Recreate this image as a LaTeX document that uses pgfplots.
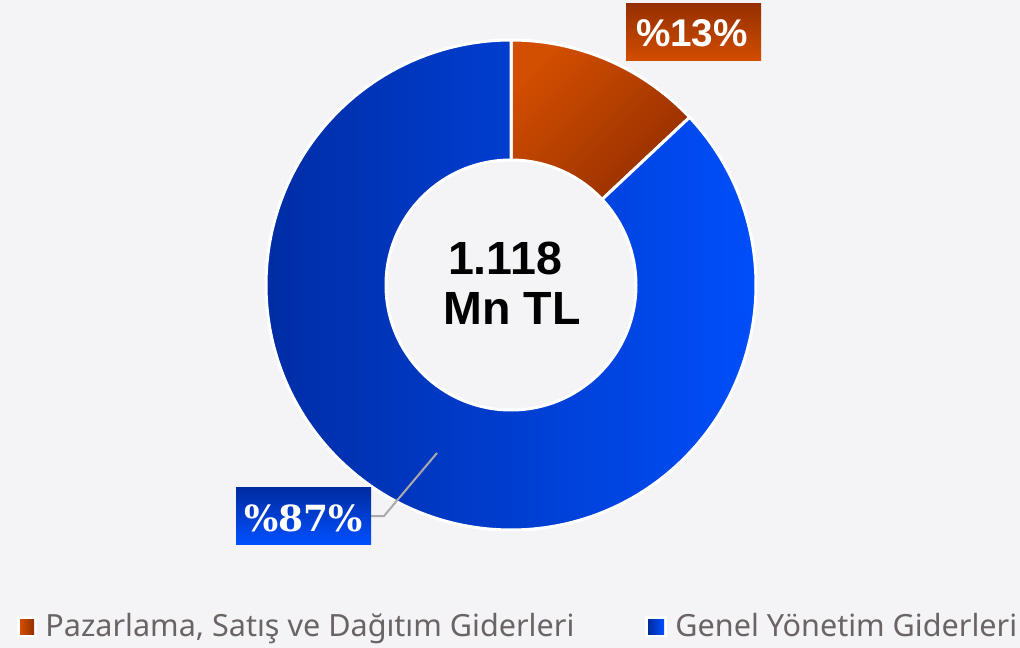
\documentclass[border=0pt]{standalone}
\usepackage{fontspec}
\setmainfont{Noto Sans}
\newfontfamily\boldsans{Liberation Sans}
\newfontfamily\serifb{DejaVu Serif}
\usepackage{pgfplots}
\usepackage{pgfplotstable}
\pgfplotsset{compat=1.18}
\definecolor{bg}{HTML}{F4F4F7}
\definecolor{orL}{HTML}{D24E00}
\definecolor{orD}{HTML}{952F00}
\definecolor{blL}{HTML}{002BA0}
\definecolor{blR}{HTML}{0050FF}
\definecolor{legtext}{HTML}{6A6464}
\definecolor{leader}{HTML}{AAAAAA}
\pgfplotstableread{
label value
Pazarlama 13
Genel 87
}\datatable
\begin{document}
\begin{tikzpicture}
\pgfplotstablegetelem{0}{value}\of\datatable
\pgfmathsetmacro{\va}{\pgfplotsretval}
\pgfmathsetmacro{\aEnd}{90-3.6*\va}
\def\Ro{4.9cm}
\def\Ri{2.5cm}
\begin{axis}[
  scale only axis, width=20.4cm, height=12.96cm,
  xmin=0, xmax=1020, ymin=0, ymax=648, y dir=reverse,
  hide axis, clip=false]
\fill[bg] (axis cs:0,0) rectangle (axis cs:1020,648);
\coordinate (c) at (axis cs:511,285);
% orange slice
\shadedraw[left color=orL, right color=orD, shading angle=45, draw=white, line width=0.06cm, line join=round]
  ([shift={(90:\Ro)}]c) arc[start angle=90, end angle=\aEnd, radius=\Ro]
  -- ([shift={(\aEnd:\Ri)}]c) arc[start angle=\aEnd, end angle=90, radius=\Ri] -- cycle;
% blue slice
\shadedraw[left color=blL, right color=blR, draw=white, line width=0.06cm, line join=round]
  ([shift={(\aEnd:\Ro)}]c) arc[start angle=\aEnd, end angle=-270, radius=\Ro]
  -- ([shift={(-270:\Ri)}]c) arc[start angle=-270, end angle=\aEnd, radius=\Ri] -- cycle;
% center text
\node[font=\boldsans\bfseries\fontsize{26.5}{30}\selectfont, align=center, anchor=base] at (axis cs:505,275) {1.118};
\node[font=\boldsans\bfseries\fontsize{26.5}{30}\selectfont, align=center, anchor=base] at (axis cs:512,325) {Mn TL};
% labels
\shade[top color=orD, bottom color=orL] (axis cs:626,4) rectangle (axis cs:761,61);
\node[font=\boldsans\bfseries\fontsize{22}{26}\selectfont, text=white, anchor=base] at (axis cs:692,47) {\%13\%};
\draw[leader, line width=0.04cm] (axis cs:371,516) -- (axis cs:384,516) -- (axis cs:437,453);
\shade[top color=blL, bottom color=blR] (axis cs:236,487) rectangle (axis cs:371,544);
\node[font=\serifb\bfseries\fontsize{20.5}{24}\selectfont, text=white, anchor=base] at (axis cs:303.5,531) {\%87\%};
% legend
\fill[white] (axis cs:17,616) rectangle (axis cs:37,637);
\shade[left color=orL, right color=orD] (axis cs:20,619) rectangle (axis cs:34,634);
\node[font=\fontsize{17.4}{20}\selectfont, text=legtext, anchor=base west, inner sep=0pt] at (axis cs:45,636) {Pazarlama, Satış ve Dağıtım Giderleri};
\fill[white] (axis cs:645,616) rectangle (axis cs:667,637);
\shade[left color=blL, right color=blR] (axis cs:648,619) rectangle (axis cs:664,634);
\node[font=\fontsize{17.4}{20}\selectfont, text=legtext, anchor=base west, inner sep=0pt] at (axis cs:675,636) {Genel Yönetim Giderleri};
\end{axis}
\end{tikzpicture}
\end{document}
